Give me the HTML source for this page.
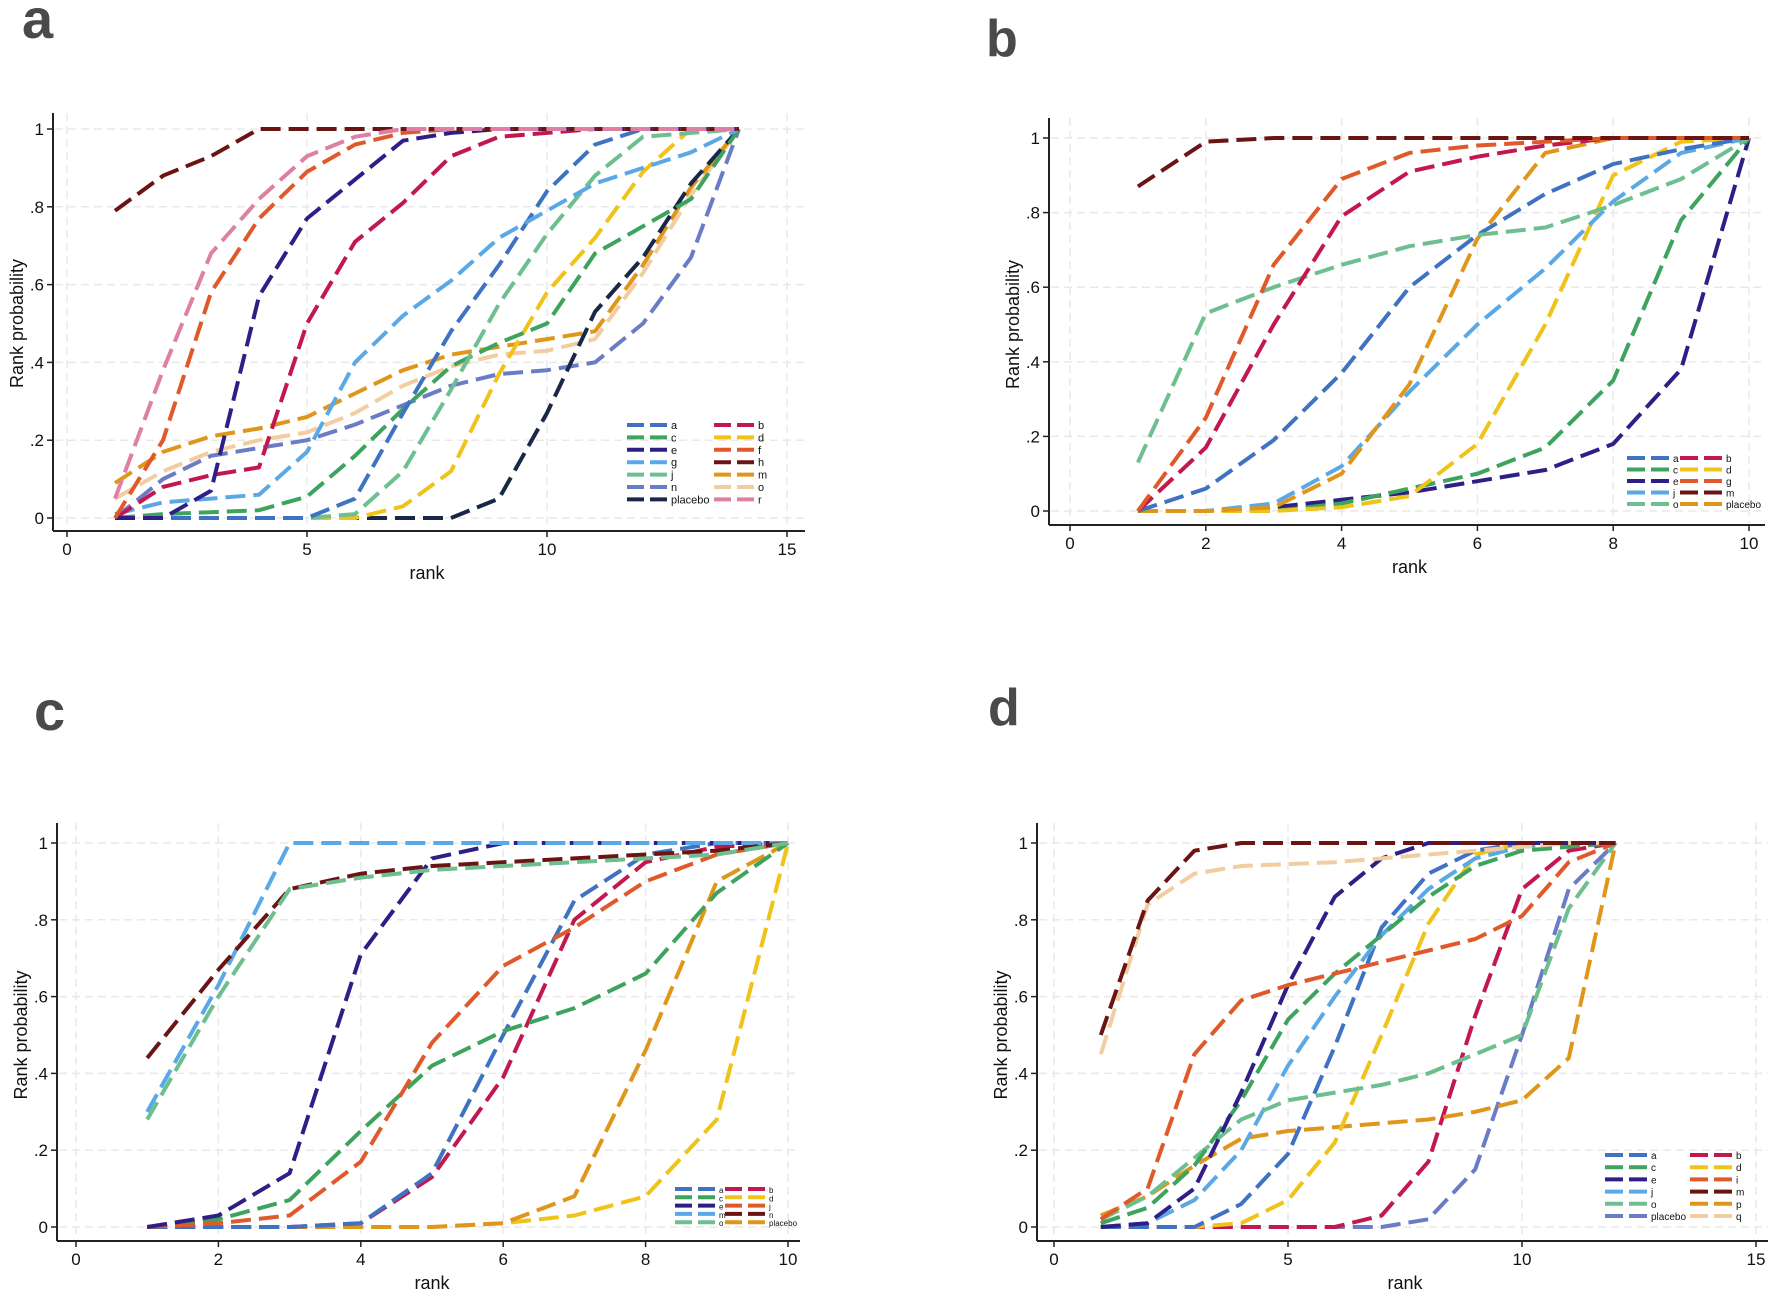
<!DOCTYPE html>
<html><head><meta charset="utf-8"><style>
html,body{margin:0;padding:0;background:#fff}
svg{display:block}
text{font-family:"Liberation Sans",sans-serif}
</style></head><body>
<svg id="s" width="1772" height="1291" viewBox="0 0 1772 1291" xmlns="http://www.w3.org/2000/svg">
<text x="22" y="38" font-size="56" font-weight="bold" fill="#4a4a4a">a</text>
<text x="986" y="56" font-size="52" font-weight="bold" fill="#4a4a4a">b</text>
<text x="34" y="730" font-size="56" font-weight="bold" fill="#4a4a4a">c</text>
<text x="988" y="725" font-size="52" font-weight="bold" fill="#4a4a4a">d</text>
</svg>
<script>
var PAL=["#3f72c2","#c2184f","#3da35d","#f0c31a","#2e1f87","#e0592b","#5aa9e6","#6a1414","#6dbf90","#e0961b","#6b7cc6","#f2cda2","#1a2848","#de80a3"];
var S=document.getElementById('s'),NS="http://www.w3.org/2000/svg";
function el(t,a,txt){var e=document.createElementNS(NS,t);for(var k in a)e.setAttribute(k,a[k]);if(txt!==undefined)e.textContent=txt;S.appendChild(e);return e;}
function panel(P){
 var C={};P.order.forEach(function(k,i){C[k]=PAL[i]});
 var X=function(v){return P.x0+v*P.ux},Y=function(v){return P.y0-v*(P.y0-P.y1)};
 var yt=[0,.2,.4,.6,.8,1],yl=["0",".2",".4",".6",".8","1"];
 yt.forEach(function(v,i){el('line',{x1:P.ax+2,x2:P.right,y1:Y(v),y2:Y(v),stroke:"#e9e9e9","stroke-width":1.5,"stroke-dasharray":"8 5"});
  el('line',{x1:P.ax-6,x2:P.ax,y1:Y(v),y2:Y(v),stroke:"#222","stroke-width":1.5});
  el('text',{x:P.ax-9,y:Y(v)+6,"font-size":17,"text-anchor":"end",fill:"#111"},yl[i]);});
 P.xt.forEach(function(v){el('line',{x1:X(v),x2:X(v),y1:P.top,y2:P.ay-2,stroke:"#e9e9e9","stroke-width":1.5,"stroke-dasharray":"8 5"});
  el('line',{x1:X(v),x2:X(v),y1:P.ay,y2:P.ay+6,stroke:"#222","stroke-width":1.5});
  el('text',{x:X(v),y:P.ay+24,"font-size":17,"text-anchor":"middle",fill:"#111"},String(v));});
 el('line',{x1:P.ax,x2:P.ax,y1:P.top,y2:P.ay,stroke:"#222","stroke-width":2});
 el('line',{x1:P.ax,x2:P.right,y1:P.ay,y2:P.ay,stroke:"#222","stroke-width":2});
 el('text',{x:X(P.xt[P.xt.length-1]/2),y:P.ay+48,"font-size":18,"text-anchor":"middle",fill:"#111"},"rank");
 var ty=(Y(0)+Y(1))/2;
 el('text',{x:P.ax-30,y:ty,"font-size":18,"text-anchor":"middle",fill:"#111",transform:"rotate(-90 "+(P.ax-30)+" "+ty+")"},"Rank probability");
 P.series.forEach(function(s){var pts=s[1].map(function(v,i){return X(i+1).toFixed(1)+","+Y(v).toFixed(1)}).join(" ");
  el('polyline',{points:pts,fill:"none",stroke:C[s[0]],"stroke-width":4,"stroke-dasharray":"20 8","stroke-linejoin":"round"});});
 P.leg.forEach(function(col,ci){col.forEach(function(k,ri){var y=P.ly+ri*P.ls,x=P.lx[ci];
  el('line',{x1:x,x2:x+P.lw,y1:y,y2:y,stroke:C[k],"stroke-width":4,"stroke-dasharray":(P.lw/2-3)+" 6"});
  el('text',{x:x+P.lw+4,y:y+4,"font-size":P.lf,fill:"#111"},k);});});
}
panel({order:["a","b","c","d","e","f","g","h","j","m","n","o","placebo","r"],
 x0:67,ux:48,y0:518,y1:129,ax:53,ay:531,top:113,right:805,xt:[0,5,10,15],
 series:[
 ["n",[0,.1,.16,.18,.2,.24,.29,.34,.37,.38,.40,.5,.67,1]],
 ["o",[.05,.12,.17,.2,.22,.27,.34,.39,.42,.43,.46,.63,.83,1]],
 ["m",[.09,.17,.21,.23,.26,.32,.38,.42,.44,.46,.48,.65,.85,1]],
 ["placebo",[0,0,0,0,0,0,0,0,.05,.27,.53,.67,.86,1]],
 ["d",[0,0,0,0,0,0,.03,.12,.37,.58,.72,.89,1,1]],
 ["c",[0,.01,.015,.02,.055,.16,.28,.39,.45,.5,.68,.75,.82,1]],
 ["j",[0,0,0,0,0,.01,.12,.33,.55,.73,.88,.98,.99,1]],
 ["a",[0,0,0,0,0,.05,.27,.48,.65,.84,.96,1,1,1]],
 ["g",[.01,.04,.05,.06,.17,.40,.52,.61,.72,.79,.86,.9,.94,1]],
 ["b",[0,.08,.11,.13,.5,.71,.81,.93,.98,.99,1,1,1,1]],
 ["e",[0,0,.07,.57,.77,.87,.97,.99,1,1,1,1,1,1]],
 ["f",[0,.2,.58,.77,.89,.96,.99,1,1,1,1,1,1,1]],
 ["h",[.79,.88,.93,1,1,1,1,1,1,1,1,1,1,1]],
 ["r",[.05,.38,.68,.82,.93,.98,1,1,1,1,1,1,1,1]]],
 leg:[["a","c","e","g","j","n","placebo"],["b","d","f","h","m","o","r"]],lx:[627,714],lw:40,ly:425,ls:12.4,lf:11});
panel({order:["a","b","c","d","e","g","j","m","o","placebo"],
 x0:1070,ux:67.9,y0:511,y1:138,ax:1049,ay:525,top:118,right:1765,xt:[0,2,4,6,8,10],
 series:[
 ["e",[0,0,.01,.03,.05,.08,.11,.18,.38,1]],
 ["c",[0,0,0,.02,.06,.1,.17,.35,.78,1]],
 ["d",[0,0,0,.01,.04,.18,.5,.9,.99,1]],
 ["j",[0,0,.02,.12,.32,.5,.65,.83,.96,1]],
 ["placebo",[0,0,.01,.1,.34,.73,.96,1,1,1]],
 ["a",[0,.06,.19,.37,.6,.74,.85,.93,.97,1]],
 ["o",[.13,.53,.6,.66,.71,.74,.76,.82,.89,1]],
 ["b",[0,.17,.5,.79,.91,.95,.98,1,1,1]],
 ["g",[0,.25,.66,.89,.96,.98,.99,1,1,1]],
 ["m",[.87,.99,1,1,1,1,1,1,1,1]]],
 leg:[["a","c","e","j","o"],["b","d","g","m","placebo"]],lx:[1627,1680],lw:42,ly:458,ls:11.5,lf:10});
panel({order:["a","b","c","d","e","j","m","n","o","placebo"],
 x0:76,ux:71.2,y0:1227,y1:843,ax:57,ay:1241,top:823,right:800,xt:[0,2,4,6,8,10],
 series:[
 ["d",[0,0,0,0,0,.01,.03,.08,.28,1]],
 ["placebo",[0,0,0,0,0,.01,.08,.46,.9,1]],
 ["b",[0,0,0,.01,.13,.39,.8,.95,.99,1]],
 ["a",[0,0,0,.01,.14,.5,.85,.97,1,1]],
 ["c",[0,.02,.07,.25,.42,.51,.57,.66,.87,1]],
 ["j",[0,.01,.03,.17,.48,.68,.78,.9,.97,1]],
 ["e",[0,.03,.14,.71,.96,1,1,1,1,1]],
 ["m",[.3,.63,1,1,1,1,1,1,1,1]],
 ["n",[.44,.67,.88,.92,.94,.95,.96,.97,.98,1]],
 ["o",[.28,.6,.88,.91,.93,.94,.95,.96,.97,1]]],
 leg:[["a","c","e","m","o"],["b","d","j","n","placebo"]],lx:[675,725],lw:40,ly:1189,ls:8.3,lf:8});
panel({order:["a","b","c","d","e","i","j","m","o","p","placebo","q"],
 x0:1054,ux:46.8,y0:1227,y1:843,ax:1037,ay:1241,top:823,right:1768,xt:[0,5,10,15],
 series:[
 ["placebo",[0,0,0,0,0,0,0,.02,.15,.5,.88,1]],
 ["b",[0,0,0,0,0,0,.03,.17,.55,.88,.98,1]],
 ["p",[.03,.08,.16,.23,.25,.26,.27,.28,.3,.33,.44,1]],
 ["d",[0,0,0,.01,.07,.22,.5,.79,.97,1,1,1]],
 ["a",[0,0,0,.06,.19,.47,.78,.92,.98,1,1,1]],
 ["j",[0,.01,.07,.2,.42,.6,.76,.88,.96,.99,1,1]],
 ["o",[.02,.08,.18,.28,.33,.35,.37,.4,.45,.5,.83,1]],
 ["c",[.01,.05,.16,.33,.54,.66,.76,.86,.94,.98,.99,1]],
 ["e",[0,.01,.1,.35,.63,.86,.96,1,1,1,1,1]],
 ["i",[.02,.1,.45,.59,.63,.66,.69,.72,.75,.81,.95,1]],
 ["q",[.45,.84,.92,.94,.945,.95,.96,.97,.98,.99,1,1]],
 ["m",[.5,.85,.98,1,1,1,1,1,1,1,1,1]]],
 leg:[["a","c","e","j","o","placebo"],["b","d","i","m","p","q"]],lx:[1605,1690],lw:42,ly:1155,ls:12.2,lf:10});
</script>
</body></html>
